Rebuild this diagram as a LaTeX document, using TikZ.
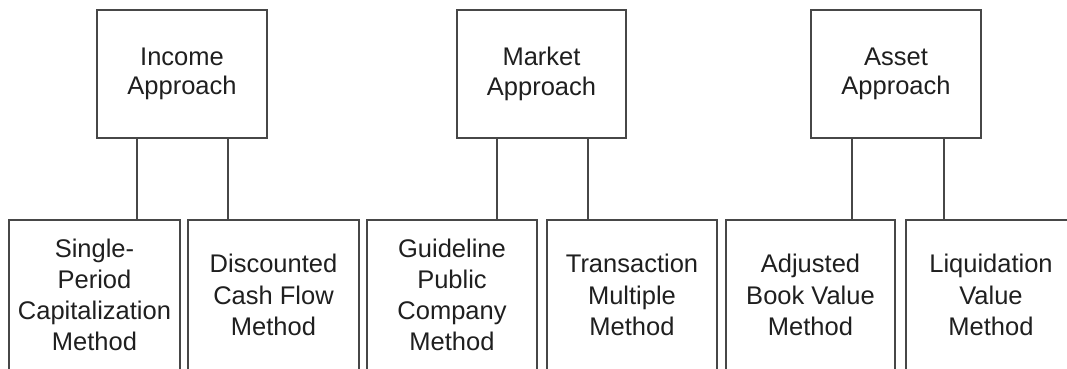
\documentclass[tikz,border=0pt]{standalone}
\usepackage{fontspec}
\setmainfont{Liberation Sans}
\begin{document}
\begin{tikzpicture}[x=1pt,y=-1pt,
  boxline/.style={draw=black!72,line width=1.3pt},
  topbox/.style={boxline,minimum height=128pt,inner sep=0pt,align=center,text=black!88,
    font=\fontsize{25.5}{29.5}\selectfont},
  botbox/.style={boxline,minimum height=150pt,inner sep=0pt,align=center,text=black!88,
    font=\fontsize{25.5}{31.2}\selectfont},
  conn/.style={draw=black!72,line width=1.3pt}]
\useasboundingbox (0,0) rectangle (1067,369);
\clip (0,0) rectangle (1067,369);
\fill[white] (0,0) rectangle (1067,369);
% top boxes
\node[topbox,minimum width=170pt] (inc) at (182,74) {Income\\Approach};
\node[topbox,minimum width=169pt] (mkt) at (541.5,74) {Market\\Approach};
\node[topbox,minimum width=170pt] (ast) at (896,74) {Asset\\Approach};
% bottom boxes
\node[botbox,minimum width=171pt] (b1) at (94.5,295) {Single-\\Period\\Capitalization\\Method};
\node[botbox,minimum width=171pt] (b2) at (273.5,295) {Discounted\\Cash Flow\\Method};
\node[botbox,minimum width=170pt] (b3) at (452,295) {Guideline\\Public\\Company\\Method};
\node[botbox,minimum width=170pt] (b4) at (632,295) {Transaction\\Multiple\\Method};
\node[botbox,minimum width=169pt] (b5) at (810.5,295) {Adjusted\\Book Value\\Method};
\node[botbox,minimum width=170pt] (b6) at (991,295) {Liquidation\\Value\\Method};
% connectors
\draw[conn] ([xshift=-45pt]inc.south) -- ([xshift=-45pt]inc.south |- b1.north);
\draw[conn] ([xshift=46pt]inc.south) -- ([xshift=46pt]inc.south |- b2.north);
\draw[conn] ([xshift=-44.5pt]mkt.south) -- ([xshift=-44.5pt]mkt.south |- b3.north);
\draw[conn] ([xshift=46.5pt]mkt.south) -- ([xshift=46.5pt]mkt.south |- b4.north);
\draw[conn] ([xshift=-44pt]ast.south) -- ([xshift=-44pt]ast.south |- b5.north);
\draw[conn] ([xshift=48pt]ast.south) -- ([xshift=48pt]ast.south |- b6.north);
\end{tikzpicture}
\end{document}
